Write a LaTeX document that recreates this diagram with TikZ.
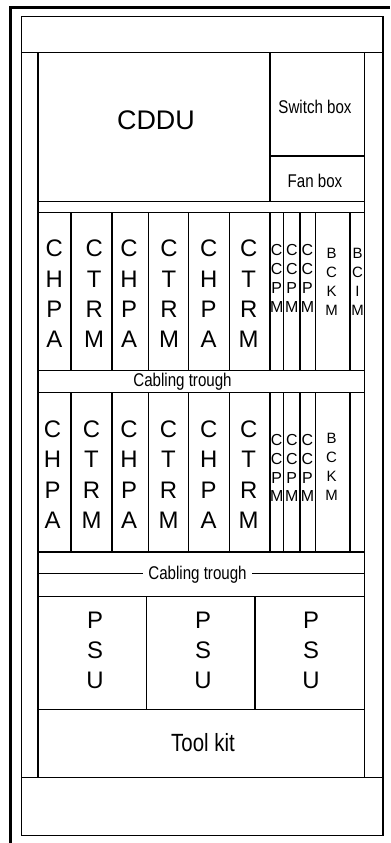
\documentclass[tikz,border=0pt]{standalone}
\usepackage{fontspec}
\usepackage{graphicx}
\setmainfont{Liberation Sans}
\newcommand\nrwtxt[1]{\scalebox{0.82}[1]{#1}}
\begin{document}
\begin{tikzpicture}[x=1bp,y=-1bp,line cap=rect]
\tikzset{
  frameline/.style={line width=1.3bp},
  railline/.style={line width=1.8bp},
  slotline/.style={line width=1.2bp},
  outerline/.style={line width=3.2bp},
  bigletters/.style={inner sep=0pt,align=center,font=\fontsize{24}{30.5}\selectfont},
  psuletters/.style={inner sep=0pt,align=center,font=\fontsize{24}{30}\selectfont},
  ccpmletters/.style={inner sep=0pt,align=center,font=\fontsize{16}{19}\selectfont},
  bckmletters/.style={inner sep=0pt,align=center,font=\fontsize{15}{19.3}\selectfont},
  narrowlabel/.style={inner sep=0pt,font=\fontsize{18.5}{20}\selectfont},
}
\useasboundingbox (0,0) rectangle (390,843);
% outer cabinet edge
\draw[outerline,line cap=butt] (10.5,843) -- (10.5,7.5) -- (390,7.5);
% inner cabinet
\draw[frameline] (21.5,16.5) rectangle (383,835.5);
\draw[frameline] (21.5,52.7) -- (383,52.7);
\draw[frameline] (21.5,777.3) -- (383,777.3);
% rails
\draw[railline] (37.7,52.7) -- (37.7,777.3);
\draw[railline] (364.5,52.7) -- (364.5,777.3);
% CDDU, switch box, fan box
\draw[slotline] (270,52.7) -- (270,201.7);
\draw[slotline] (270,156) -- (364.5,156);
% horizontal separators
\foreach \yy in {201.7,212.3,370.7,392.7,552,596.5,709.3}
  \draw[slotline] (37.7,\yy) -- (364.5,\yy);
% slot separators
\foreach \xx in {71,112,148.7,188.7,229.3,270,283.7,300,315.3,350}{
  \draw[slotline] (\xx,212.3) -- (\xx,370.7);
  \draw[slotline] (\xx,392.7) -- (\xx,552);
}
% PSU separators
\draw[slotline] (146.7,596.5) -- (146.7,709.3);
\draw[slotline] (255,596.5) -- (255,709.3);
% second cabling trough line
\draw[slotline] (37.7,573.5) -- (364.5,573.5);

% labels
\node[inner sep=0pt,font=\fontsize{27}{30}\selectfont] (cddu) at (156,120) {CDDU};
\node[narrowlabel] (switch) at (315,107) {\nrwtxt{Switch box}};
\node[narrowlabel] (fan) at (315,180.5) {\nrwtxt{Fan box}};

% row 1
\node[bigletters] (r1a) at (54.3,294) {C\\H\\P\\A};
\node[bigletters] (r1b) at (94.2,294) {C\\T\\R\\M};
\node[bigletters] (r1c) at (129,294) {C\\H\\P\\A};
\node[bigletters] (r1d) at (169,294) {C\\T\\R\\M};
\node[bigletters] (r1e) at (208.7,294) {C\\H\\P\\A};
\node[bigletters] (r1f) at (248.7,294) {C\\T\\R\\M};
\node[ccpmletters] (r1g) at (276.7,278.5) {C\\C\\P\\M};
\node[ccpmletters] (r1h) at (291.8,278.5) {C\\C\\P\\M};
\node[ccpmletters] (r1i) at (307.5,278.5) {C\\C\\P\\M};
\node[bckmletters] (r1j) at (331.5,282) {B\\C\\K\\M};
\node[bckmletters] (r1k) at (357.5,282) {B\\C\\I\\M};
\node[narrowlabel] (trough1) at (182.5,381.7) {\nrwtxt{Cabling trough}};

% row 2
\node[bigletters] (r2a) at (52.5,474.5) {C\\H\\P\\A};
\node[bigletters] (r2b) at (91.5,474.5) {C\\T\\R\\M};
\node[bigletters] (r2c) at (129,474.5) {C\\H\\P\\A};
\node[bigletters] (r2d) at (168.5,474.5) {C\\T\\R\\M};
\node[bigletters] (r2e) at (208.7,474.5) {C\\H\\P\\A};
\node[bigletters] (r2f) at (248.7,474.5) {C\\T\\R\\M};
\node[ccpmletters] (r2g) at (276.7,468) {C\\C\\P\\M};
\node[ccpmletters] (r2h) at (291.8,468) {C\\C\\P\\M};
\node[ccpmletters] (r2i) at (307.5,468) {C\\C\\P\\M};
\node[bckmletters] (r2j) at (331.5,467) {B\\C\\K\\M};
\node[narrowlabel,fill=white,inner xsep=5bp,inner ysep=2bp] (trough2) at (197.5,574.5) {\nrwtxt{Cabling trough}};

% PSUs
\node[psuletters] (psu1) at (95,650) {P\\S\\U};
\node[psuletters] (psu2) at (203,650) {P\\S\\U};
\node[psuletters] (psu3) at (311,650) {P\\S\\U};

% tool kit
\node[inner sep=0pt,font=\fontsize{25}{28}\selectfont] (toolkit) at (203,743) {\nrwtxt{Tool kit}};
\end{tikzpicture}
\end{document}
